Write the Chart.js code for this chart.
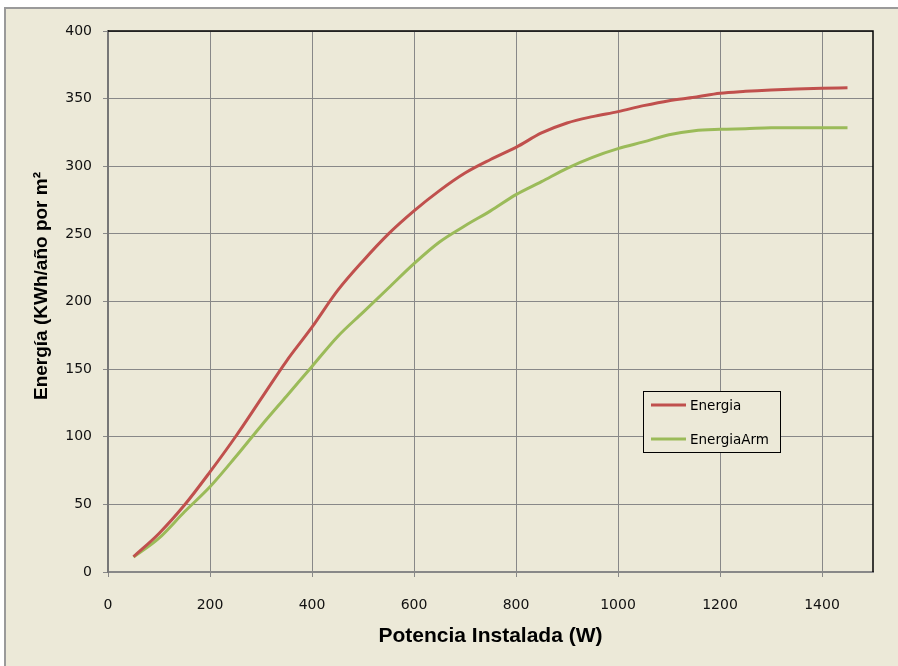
<!DOCTYPE html>
<html>
<head>
<meta charset="utf-8">
<script src="https://cdn.jsdelivr.net/npm/chart.js@4"></script>
<style>
  html, body { margin: 0; padding: 0; background: #fff; }
  #wrap { width: 898px; height: 666px; }
</style>
</head>
<body>
<div id="wrap"><canvas id="myChart" width="898" height="666"></canvas></div>
<script>
// Potencia instalada (W)
var potencia = [50, 100, 150, 200, 250, 300, 350, 400, 450, 500, 550, 600, 650, 700, 750,
                800, 850, 900, 950, 1000, 1050, 1100, 1150, 1200, 1250, 1300, 1350, 1400, 1450];
// Energia (KWh/año por m2)
var energia = [11.3, 28.5, 49.5, 74, 100, 128, 156, 181, 208, 230, 250, 267, 282, 295, 305,
               314, 324.6, 332, 336.7, 340.4, 344.8, 348.5, 351, 354, 355.4, 356.4, 357.1, 357.6, 358];
var energiaArm = [11, 25, 44.5, 63, 85, 108, 130, 152, 174, 192, 210, 228, 244, 256, 267,
                  279, 288.6, 298.5, 306.6, 313, 318, 323.3, 326.3, 327.3, 327.8, 328.4, 328.5, 328.5, 328.5];
var xTicks = [0, 200, 400, 600, 800, 1000, 1200, 1400];
var seriesNames = ['Energia', 'EnergiaArm'];
var seriesColors = ['#C0504D', '#9BBB59'];

var bg = '#ECE9D8';

function points(ys) {
    return potencia.map(function (x, i) { return { x: x, y: ys[i] }; });
}

var frame = {
    id: 'frame',
    beforeDraw: function (chart) {
        var ctx = chart.ctx;
        ctx.save();
        ctx.fillStyle = '#fff';
        ctx.fillRect(0, 0, chart.width, chart.height);
        ctx.fillStyle = bg;
        ctx.fillRect(5, 8, chart.width, chart.height);
        ctx.strokeStyle = '#9a9a9a';
        ctx.lineWidth = 2;
        ctx.beginPath();
        ctx.moveTo(5, chart.height + 2);
        ctx.lineTo(5, 8);
        ctx.lineTo(chart.width + 2, 8);
        ctx.stroke();
        ctx.restore();
    },
    beforeDatasetsDraw: function (chart) {
        var ctx = chart.ctx, a = chart.chartArea;
        ctx.save();
        ctx.strokeStyle = '#000';
        ctx.lineWidth = 1.5;
        ctx.beginPath();
        ctx.moveTo(a.left, a.top);
        ctx.lineTo(a.right, a.top);
        ctx.lineTo(a.right, a.bottom);
        ctx.stroke();
        ctx.restore();
    },
    afterDraw: function (chart) {
        var ctx = chart.ctx;
        ctx.save();
        // y axis title
        ctx.translate(42, 286);
        ctx.rotate(-Math.PI / 2);
        ctx.fillStyle = '#000';
        ctx.font = 'bold 19px "Liberation Sans", Arial, sans-serif';
        ctx.textAlign = 'center';
        ctx.textBaseline = 'middle';
        ctx.fillText('Energía (KWh/año por m²', 0, 0);
        ctx.restore();

        // legend box
        ctx.save();
        ctx.fillStyle = bg;
        ctx.fillRect(643.5, 391.5, 137, 61);
        ctx.strokeStyle = '#000';
        ctx.lineWidth = 1;
        ctx.strokeRect(643.5, 391.5, 137, 61);
        ctx.font = '13.5px "DejaVu Sans", Verdana, sans-serif';
        ctx.textBaseline = 'middle';
        ctx.textAlign = 'left';
        var rows = [405, 439];
        for (var i = 0; i < seriesNames.length; i++) {
            ctx.strokeStyle = seriesColors[i];
            ctx.lineWidth = 3;
            ctx.beginPath();
            ctx.moveTo(651, rows[i]);
            ctx.lineTo(686, rows[i]);
            ctx.stroke();
            ctx.fillStyle = '#000';
            ctx.fillText(seriesNames[i], 690, rows[i] + 1);
        }
        ctx.restore();
    }
};

var tickFont = { family: '"DejaVu Sans", Verdana, sans-serif', size: 14 };
function plain(v) { return String(v); }

new Chart(document.getElementById('myChart'), {
    type: 'line',
    data: {
        datasets: [
            {
                label: seriesNames[0],
                data: points(energia),
                borderColor: seriesColors[0],
                borderWidth: 3,
                pointRadius: 0,
                fill: false,
                cubicInterpolationMode: 'monotone'
            },
            {
                label: seriesNames[1],
                data: points(energiaArm),
                borderColor: seriesColors[1],
                borderWidth: 3,
                pointRadius: 0,
                fill: false,
                cubicInterpolationMode: 'monotone'
            }
        ]
    },
    options: {
        responsive: false,
        animation: false,
        layout: { padding: { top: 31, right: 25, left: 0, bottom: 0 } },
        plugins: {
            legend: { display: false },
            tooltip: { enabled: false }
        },
        scales: {
            x: {
                type: 'linear',
                min: 0,
                max: 1500,
                afterBuildTicks: function (scale) {
                    scale.ticks = xTicks.map(function (v) { return { value: v }; });
                },
                afterFit: function (scale) { scale.height = 94; },
                grid: { color: '#888', lineWidth: 1, tickLength: 5, tickColor: '#888' },
                border: { color: '#888', width: 2 },
                ticks: { font: tickFont, color: '#111', padding: 20, maxRotation: 0, callback: plain },
                title: {
                    display: true,
                    text: 'Potencia Instalada (W)',
                    color: '#000',
                    font: { family: '"Liberation Sans", Arial, sans-serif', size: 21, weight: 'bold' },
                    padding: { top: 0, bottom: 17 }
                }
            },
            y: {
                min: 0,
                max: 400,
                ticks: { stepSize: 50, font: tickFont, color: '#111', padding: 11, callback: plain },
                afterFit: function (scale) { scale.width = 108; },
                grid: { color: '#888', lineWidth: 1, tickLength: 5, tickColor: '#888' },
                border: { color: '#777', width: 2 }
            }
        }
    },
    plugins: [frame]
});
</script>
</body>
</html>
